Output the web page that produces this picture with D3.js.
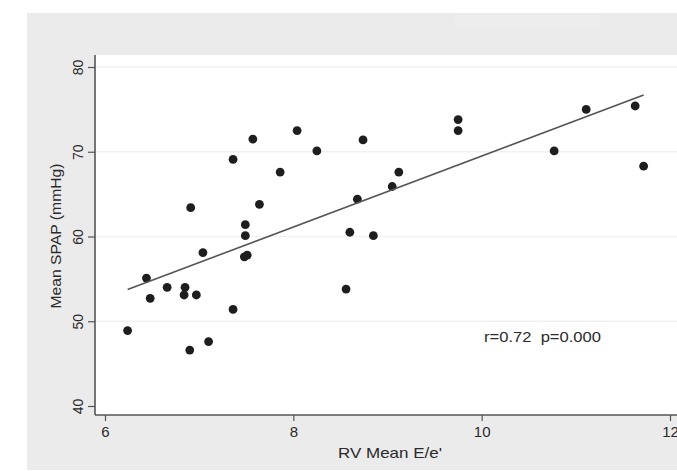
<!DOCTYPE html>
<html>
<head>
<meta charset="utf-8">
<script src="https://cdn.jsdelivr.net/npm/d3@7"></script>
<style>
  body { margin: 0; background: #ffffff; }
  svg { display: block; font-family: "Liberation Sans", Arial, sans-serif; }
</style>
</head>
<body>
<svg id="chart" width="677" height="471"></svg>
<script>
// Data: RV mean E/e' against mean SPAP (mmHg)
var ratioValues = [6.24, 6.44, 6.48, 6.66, 6.85, 6.84, 6.97, 6.90, 7.10, 6.91, 7.04,
    7.36, 7.36, 7.57, 7.49, 7.49, 7.48, 7.51, 7.64, 7.86, 8.04, 8.25, 8.74, 8.56,
    8.60, 8.68, 8.85, 9.05, 9.12, 9.75, 9.75, 10.77, 11.11, 11.63, 11.72];
var spapValues = [48.9, 55.1, 52.7, 54.0, 54.0, 53.1, 53.1, 46.6, 47.6, 63.4, 58.1,
    69.1, 51.4, 71.5, 61.4, 60.1, 57.6, 57.8, 63.8, 67.6, 72.5, 70.1, 71.4, 53.8,
    60.5, 64.4, 60.1, 65.9, 67.6, 73.8, 72.5, 70.1, 75.0, 75.4, 68.3];

// Fitted line (linear fit) and the stats text
var fitIntercept = 27.6;
var fitSlope = 4.19;
var statsLabel = "r=0.72  p=0.000";

// Axis ticks and titles
var xTicks = [6, 8, 10, 12];
var yTicks = [40, 50, 60, 70, 80];
var yGrid = [50, 60, 70, 80];
var xTitle = "RV Mean E/e'";
var yTitle = "Mean SPAP (mmHg)";

var svg = d3.select("#chart"),
    width = +svg.attr("width"),
    height = +svg.attr("height");

// Plot region (white area) and the grey graph region behind it
var plotLeft = 95, plotTop = 55, plotBottom = 415;

var x = d3.scaleLinear().domain([6, 12]).range([105, 670]);
var y = d3.scaleLinear().domain([40, 80]).range([406, 67]);

// grey background
svg.append("rect")
    .attr("x", 27).attr("y", 13)
    .attr("width", width - 27).attr("height", 457)
    .attr("fill", "#ebebeb");

// faint lighter patch at the top of the grey area
svg.append("rect")
    .attr("x", 455).attr("y", 15)
    .attr("width", 145).attr("height", 11)
    .attr("fill", "#ededed");

// white plot area
svg.append("rect")
    .attr("x", plotLeft).attr("y", plotTop)
    .attr("width", width - plotLeft).attr("height", plotBottom - plotTop)
    .attr("fill", "#ffffff");

// horizontal grid lines
svg.append("g")
    .selectAll("line")
    .data(yGrid)
    .enter().append("line")
        .attr("x1", plotLeft + 1).attr("x2", width)
        .attr("y1", d => y(d)).attr("y2", d => y(d))
        .attr("stroke", "#f1f1f1")
        .attr("stroke-width", 1.5);

// y axis (rotated tick labels like Stata)
var yAxis = svg.append("g")
    .attr("transform", "translate(" + plotLeft + ",0)")
    .call(d3.axisLeft(y).tickValues(yTicks).tickSize(7).tickPadding(0).tickFormat(d3.format("d")));
yAxis.select(".domain").remove();
yAxis.selectAll(".tick line").attr("stroke", "#555").attr("stroke-width", 1.2);
yAxis.selectAll(".tick text")
    .attr("x", 0).attr("y", 0)
    .attr("dy", null)
    .attr("text-anchor", "middle")
    .attr("transform", "translate(-17,0) rotate(-90)")
    .attr("dominant-baseline", "central")
    .style("font-size", "14px")
    .attr("fill", "#2a2a2a");

// x axis
var xAxis = svg.append("g")
    .attr("transform", "translate(0," + plotBottom + ")")
    .call(d3.axisBottom(x).tickValues(xTicks).tickSize(6).tickPadding(5).tickFormat(d3.format("d")));
xAxis.select(".domain").remove();
xAxis.selectAll(".tick line").attr("stroke", "#555").attr("stroke-width", 1.2);
xAxis.selectAll(".tick text")
    .style("font-size", "15px")
    .attr("fill", "#2a2a2a");

// axis lines along the plot region
svg.append("line")
    .attr("x1", plotLeft).attr("x2", plotLeft)
    .attr("y1", plotTop).attr("y2", plotBottom)
    .attr("stroke", "#555").attr("stroke-width", 1.6);
svg.append("line")
    .attr("x1", plotLeft).attr("x2", width)
    .attr("y1", plotBottom).attr("y2", plotBottom)
    .attr("stroke", "#555").attr("stroke-width", 1.6);

// axis titles
svg.append("text")
    .attr("x", 390).attr("y", 458)
    .attr("text-anchor", "middle")
    .attr("textLength", 104)
    .attr("lengthAdjust", "spacingAndGlyphs")
    .style("font-size", "15px")
    .attr("fill", "#2a2a2a")
    .text(xTitle);

svg.append("text")
    .attr("transform", "translate(61,236) rotate(-90)")
    .attr("text-anchor", "middle")
    .attr("textLength", 145)
    .attr("lengthAdjust", "spacingAndGlyphs")
    .style("font-size", "15px")
    .attr("fill", "#2a2a2a")
    .text(yTitle);

// points
var points = ratioValues.map((v, i) => ({ x: v, y: spapValues[i] }));
svg.append("g")
    .selectAll("circle")
    .data(points)
    .enter().append("circle")
        .attr("cx", d => x(d.x))
        .attr("cy", d => y(d.y))
        .attr("r", 4.4)
        .attr("fill", "#1e1e1e");

// fitted line over the data range
var xExtent = d3.extent(ratioValues);
svg.append("path")
    .datum(xExtent.map(v => [v, fitIntercept + fitSlope * v]))
    .attr("d", d3.line().x(d => x(d[0])).y(d => y(d[1])))
    .attr("fill", "none")
    .attr("stroke", "#555")
    .attr("stroke-width", 1.6);

// correlation text (keep the double space)
svg.append("text")
    .attr("x", 484).attr("y", 342)
    .attr("textLength", 117)
    .attr("lengthAdjust", "spacingAndGlyphs")
    .style("font-size", "14px")
    .style("white-space", "pre")
    .attr("fill", "#2a2a2a")
    .text(statsLabel);
</script>
</body>
</html>
